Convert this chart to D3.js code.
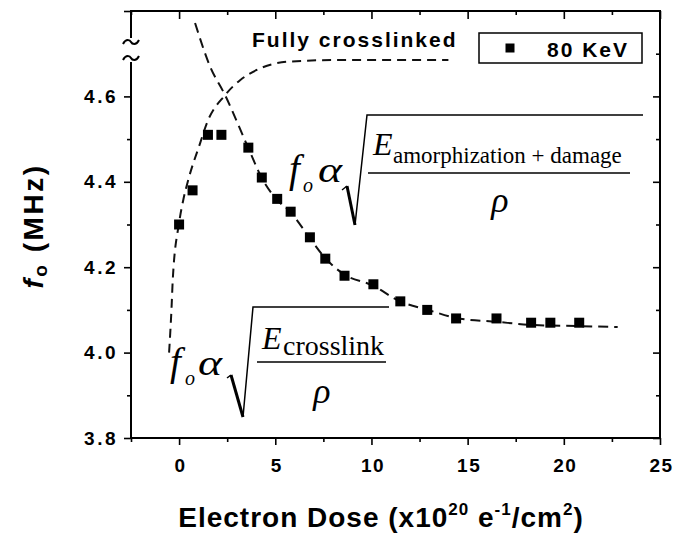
<!DOCTYPE html>
<html><head><meta charset="utf-8">
<script src="https://cdn.jsdelivr.net/npm/d3@7"></script>
<style>body{margin:0;background:#fff}svg{display:block}</style>
</head><body><svg id="c" width="683" height="535"></svg>
<script>
// ---- data ----
const doseData = [0, 0.7, 1.5, 2.2, 3.6, 4.3, 5.1, 5.8, 6.8, 7.6, 8.6, 10.1, 11.5, 12.9, 14.4, 16.5, 18.3, 19.3, 20.8];
const freqData = [4.30, 4.38, 4.51, 4.51, 4.48, 4.41, 4.36, 4.33, 4.27, 4.22, 4.18, 4.16, 4.12, 4.10, 4.08, 4.08, 4.07, 4.07, 4.07];
// dashed guide curves
const crossDose = [-0.52, -0.39, -0.33, 0.0, 0.22, 0.48, 1.09, 1.44, 2.39, 3.17, 4.04, 5.59, 8.0, 14.0];
const crossFreq = [4.00, 4.107, 4.17, 4.304, 4.358, 4.405, 4.49, 4.537, 4.603, 4.638, 4.662, 4.681, 4.685, 4.685];
const damDose = [0.83, 1.61, 2.39, 3.58, 4.31, 5.04, 5.77, 6.75, 7.58, 8.62, 10.03, 11.48, 12.94, 14.4, 16.53, 18.29, 20.78, 22.8];
const damFreq = [4.772, 4.67, 4.603, 4.481, 4.408, 4.36, 4.33, 4.271, 4.222, 4.182, 4.158, 4.12, 4.10, 4.081, 4.072, 4.065, 4.062, 4.06];
const xMajor = [0, 5, 10, 15, 20, 25];
const xMinor = [-2.5, 2.5, 7.5, 12.5, 17.5, 22.5];
const yMajor = [3.8, 4.0, 4.2, 4.4, 4.6];
const yMinor = [3.9, 4.1, 4.3, 4.5];
const legendLabel = "80 KeV";

const svg = d3.select("#c");
const L = 131, R = 660, T = 11, B = 438;
const x = d3.scaleLinear().domain([-2.5, 25]).range([L, R]);
const y = d3.scaleLinear().domain([3.8, 4.8]).range([B, T]);
const sans = "'Liberation Sans', Arial, Helvetica, sans-serif";
const serif = "'Liberation Serif', 'Times New Roman', serif";

function styleAxis(g) {
  g.select(".domain").remove();
  g.selectAll(".tick line").attr("stroke", "#000").attr("stroke-width", 1.6);
}
// bottom
svg.append("g").attr("transform", `translate(0,${B})`)
  .call(d3.axisBottom(x).tickValues(xMajor).tickSize(7).tickFormat(d3.format("d")))
  .call(styleAxis)
  .call(g => g.selectAll("text").attr("y", 34).attr("dy", null).attr("dx", 1)
    .style("font", `bold 19px ${sans}`).style("letter-spacing", "1.5px").attr("fill", "#000"));
svg.append("g").attr("transform", `translate(0,${B})`)
  .call(d3.axisBottom(x).tickValues(xMinor).tickSize(4).tickFormat(""))
  .call(styleAxis);
// top (inward)
svg.append("g").attr("transform", `translate(0,${T})`)
  .call(d3.axisTop(x).tickValues(xMajor).tickSize(-8).tickFormat("")).call(styleAxis);
svg.append("g").attr("transform", `translate(0,${T})`)
  .call(d3.axisTop(x).tickValues(xMinor).tickSize(-4).tickFormat("")).call(styleAxis);
// left
svg.append("g").attr("transform", `translate(${L},0)`)
  .call(d3.axisLeft(y).tickValues(yMajor.concat([4.8])).tickSize(7).tickFormat(d => d === 4.8 ? "" : d3.format(".1f")(d)))
  .call(styleAxis)
  .call(g => g.selectAll("text").attr("x", -13)
    .style("font", `bold 19px ${sans}`).style("letter-spacing", "2.5px").attr("fill", "#000"));
svg.append("g").attr("transform", `translate(${L},0)`)
  .call(d3.axisLeft(y).tickValues(yMinor).tickSize(4).tickFormat("")).call(styleAxis);
// right (inward)
svg.append("g").attr("transform", `translate(${R},0)`)
  .call(d3.axisRight(y).tickValues(yMajor).tickSize(-7).tickFormat("")).call(styleAxis);
svg.append("g").attr("transform", `translate(${R},0)`)
  .call(d3.axisRight(y).tickValues(yMinor.concat([4.7])).tickSize(-4).tickFormat("")).call(styleAxis);

// frame with break on left axis
const frame = svg.append("g").attr("stroke", "#000").attr("stroke-width", 2).attr("fill", "none");
frame.append("path").attr("d", `M${L},38 L${L},${T} L${R},${T} L${R},${B} L${L},${B} L${L},62`);
frame.append("path").attr("d", `M123,44 C126,38 130,40 131,42 S136,46 139,40`);
frame.append("path").attr("d", `M123,60 C126,54 130,56 131,58 S136,62 139,56`);

// dashed curves
const line = d3.line().x(d => x(d[0])).y(d => y(d[1])).curve(d3.curveMonotoneX);
svg.append("path").datum(d3.zip(crossDose, crossFreq)).attr("d", line)
  .attr("fill", "none").attr("stroke", "#111").attr("stroke-width", 2).attr("stroke-dasharray", "9,6");
svg.append("path").datum(d3.zip(damDose, damFreq)).attr("d", line)
  .attr("fill", "none").attr("stroke", "#111").attr("stroke-width", 2).attr("stroke-dasharray", "10,6");

// markers
const S = 10;
svg.append("g").selectAll("rect").data(d3.zip(doseData, freqData)).join("rect")
  .attr("x", d => x(d[0]) - S / 2).attr("y", d => y(d[1]) - S / 2)
  .attr("width", S).attr("height", S).attr("fill", "#000");

// legend
svg.append("rect").attr("x", 479).attr("y", 33).attr("width", 163).attr("height", 30)
  .attr("fill", "#fff").attr("stroke", "#000").attr("stroke-width", 1.5);
svg.append("rect").attr("x", 510 - 4.5).attr("y", 48 - 4.5).attr("width", 9).attr("height", 9).attr("fill", "#000");
svg.append("text").attr("x", 547).attr("y", 57).text(legendLabel)
  .style("font", `bold 21px ${sans}`).style("letter-spacing", "2px");

// annotation
svg.append("text").attr("x", 252).attr("y", 47).text("Fully crosslinked")
  .style("font", `bold 21px ${sans}`).style("letter-spacing", "2px");

// formulas
const fm = svg.append("g").attr("fill", "#000");
function formula(o) {
  fm.append("text").attr("x", o.fx).attr("y", o.by).text("f").style("font", `italic 39px ${serif}`);
  fm.append("text").attr("x", o.ox).attr("y", o.by + 10).text("o").style("font", `italic 20px ${serif}`);
  fm.append("text").attr("x", o.ax).attr("y", o.by).text("α").attr("textLength", 24).attr("lengthAdjust", "spacingAndGlyphs")
    .style("font", `italic 36px ${serif}`);
  const s = o.sq;
  fm.append("path").attr("d", `M${s[0]},${s[1]} L${s[2]},${s[3]}`).attr("stroke", "#000").attr("stroke-width", 1.5).attr("fill", "none");
  fm.append("path").attr("d", `M${s[2]},${s[3]} L${s[4]},${s[5]}`).attr("stroke", "#000").attr("stroke-width", 3).attr("fill", "none");
  fm.append("path").attr("d", `M${s[4]},${s[5]} L${s[6]},${s[7]} L${s[8]},${s[7]}`).attr("stroke", "#000").attr("stroke-width", 1.5).attr("fill", "none");
  fm.append("text").attr("x", o.ex).attr("y", o.ey).text("E").style("font", `italic 32px ${serif}`);
  fm.append("text").attr("x", o.subx).attr("y", o.suby).text(o.sub).style("font", `${o.subsize}px ${serif}`);
  fm.append("path").attr("d", `M${o.fr[0]},${o.fr[2]} L${o.fr[1]},${o.fr[2]}`).attr("stroke", "#000").attr("stroke-width", 1.5);
  fm.append("text").attr("x", o.rx).attr("y", o.ry).attr("text-anchor", "middle").text("ρ").style("font", `italic 36px ${serif}`);
}
formula({fx: 289, ox: 303, ax: 318, by: 182, sq: [342, 190, 347, 186, 355, 225, 367, 115, 643],
  ex: 373, ey: 155, sub: "amorphization + damage", subx: 393, suby: 163, subsize: 23,
  fr: [368, 630, 173], rx: 500, ry: 212});
formula({fx: 170, ox: 185, ax: 198, by: 375, sq: [227, 378, 231, 375, 243, 417, 253, 307, 389],
  ex: 262, ey: 349, sub: "crosslink", subx: 283, suby: 355, subsize: 28,
  fr: [257, 386, 362], rx: 322, ry: 403});

// axis titles
const yl = svg.append("text").attr("transform", "translate(43,226) rotate(-90)").attr("text-anchor", "middle")
  .style("font", `bold 28px ${sans}`).style("letter-spacing", "2.5px");
yl.append("tspan").text("f").style("font-style", "italic");
yl.append("tspan").text("o").style("font-size", "19px").attr("dy", 4);
yl.append("tspan").text(" (MHz)").attr("dy", -4);

const xl = svg.append("text").attr("x", 381).attr("y", 527).attr("text-anchor", "middle")
  .style("font", `bold 28px ${sans}`).style("letter-spacing", "1px");
xl.append("tspan").text("Electron Dose (x10");
xl.append("tspan").text("20").style("font-size", "17px").attr("dy", -12);
xl.append("tspan").text(" e").attr("dy", 12);
xl.append("tspan").text("-1").style("font-size", "17px").attr("dy", -12);
xl.append("tspan").text("/cm").attr("dy", 12);
xl.append("tspan").text("2").style("font-size", "17px").attr("dy", -12);
xl.append("tspan").text(")").attr("dy", 12);
</script></body></html>
